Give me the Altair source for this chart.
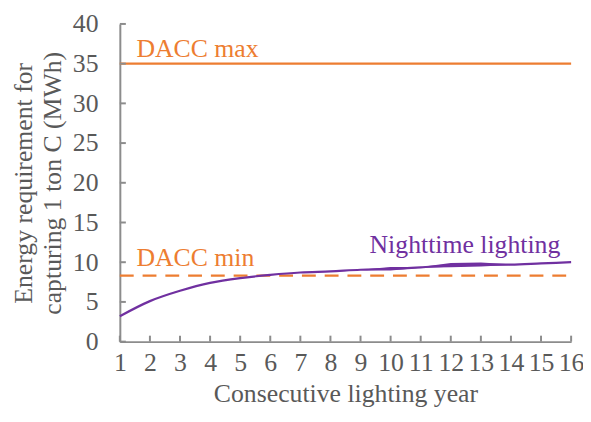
import altair as alt
import pandas as pd

# ---- data ----
years = list(range(1, 17))
mean_val = [3.2, 5.1, 6.4, 7.4, 8.0, 8.4, 8.7, 8.85, 9.05, 9.15, 9.35, 9.6, 9.7, 9.7, 9.85, 10.0]
lower_val = [3.2, 5.1, 6.4, 7.4, 8.0, 8.4, 8.7, 8.85, 9.05, 8.95, 9.3, 9.35, 9.45, 9.65, 9.85, 10.0]
upper_val = [3.2, 5.1, 6.4, 7.4, 8.0, 8.4, 8.7, 8.85, 9.05, 9.4, 9.4, 9.9, 9.95, 9.75, 9.85, 10.0]

dacc_max = 35
dacc_min = 8.3

y_ticks = [0, 5, 10, 15, 20, 25, 30, 35, 40]
x_ticks = list(range(1, 17))

labels = ["DACC max", "DACC min", "Nighttime lighting"]
label_x = [1.55, 1.55, 9.3]
label_y = [35.9, 9.5, 11.2]
label_color = ["#ED7D31", "#ED7D31", "#7030A0"]

ORANGE = "#ED7D31"
PURPLE = "#7030A0"
GRAY = "#595959"
AXIS = "#8C8C8C"
FONT = "Liberation Serif, Times New Roman, serif"

# tick length expressed in axis units (about 6 px)
XTICK_LEN = 0.2
YTICK_LEN = 0.75

series = pd.DataFrame({"year": years, "mean": mean_val, "lo": lower_val, "hi": upper_val})
refs = pd.DataFrame({"x": [1, 1], "x2": [16, 16], "y": [dacc_max, dacc_min], "kind": ["max", "min"]})
ann = pd.DataFrame({"x": label_x, "y": label_y, "text": labels, "color": label_color})
yt = pd.DataFrame({"ty": y_ticks,
                   "tx0": [x_ticks[0]] * len(y_ticks),
                   "tx1": [x_ticks[0] + XTICK_LEN] * len(y_ticks)})
xt = pd.DataFrame({"sx": x_ticks,
                   "sy0": [y_ticks[0]] * len(x_ticks),
                   "sy1": [y_ticks[0] + YTICK_LEN] * len(x_ticks)})

xscale = alt.Scale(domain=[1, 16], nice=False, zero=False)
yscale = alt.Scale(domain=[0, 40], nice=False)

XT = "Consecutive lighting year"
YT = ["Energy requirement for", "capturing 1 ton C (MWh)"]
xaxis = alt.Axis(values=x_ticks, title=XT, format="d", labelOverlap=False,
                 labelFlush=False, ticks=False, grid=False)
yaxis = alt.Axis(values=y_ticks, title=YT, format="d", labelOverlap=False,
                 labelFlush=False, ticks=False, grid=False)

def X(f):
    return alt.X(f, type="quantitative", scale=xscale, axis=xaxis)

def Y(f):
    return alt.Y(f, type="quantitative", scale=yscale, axis=yaxis)

base = alt.Chart(series)

band = base.mark_area(color=PURPLE, opacity=1).encode(x=X("year"), y=Y("lo"), y2="hi")
line = base.mark_line(color=PURPLE, strokeWidth=2.2, interpolate="monotone").encode(
    x=X("year"), y=Y("mean"))

max_rule = alt.Chart(refs[refs.kind == "max"]).mark_rule(color=ORANGE, strokeWidth=2.2).encode(
    x=X("x"), x2="x2", y=Y("y"))
min_rule = alt.Chart(refs[refs.kind == "min"]).mark_rule(
    color=ORANGE, strokeWidth=2.2, strokeDash=[14, 9]).encode(x=X("x"), x2="x2", y=Y("y"))

text = alt.Chart(ann).mark_text(align="left", baseline="alphabetic", font=FONT, fontSize=26).encode(
    x=X("x"), y=Y("y"), text="text:N", color=alt.Color("color:N", scale=None))

# inward-pointing tick marks
ytick_marks = alt.Chart(yt).mark_rule(color=AXIS, strokeWidth=2).encode(
    x=X("tx0"), x2="tx1", y=Y("ty"))
xtick_marks = alt.Chart(xt).mark_rule(color=AXIS, strokeWidth=2).encode(
    x=X("sx"), y=Y("sy0"), y2="sy1")

chart = alt.layer(
    max_rule, min_rule, band, line, text, ytick_marks, xtick_marks
).properties(
    width=456, height=321,
    background="white",
    autosize=alt.AutoSizeParams(type="none"),
    padding={"left": 113, "top": 14, "right": 12, "bottom": 70},
).configure_view(stroke=None).configure_axis(
    labelFont=FONT, titleFont=FONT, labelFontSize=26, titleFontSize=26,
    labelColor=GRAY, titleColor=GRAY, titleFontWeight="normal",
    domainColor=AXIS, domainWidth=2, labelOverlap=False, labelFlush=False,
    labelBound=False, ticks=False, grid=False, zindex=0,
).configure_axisX(
    labelPadding=8, titlePadding=6,
).configure_axisY(
    labelPadding=22, titlePadding=7, titleLineHeight=29,
)

chart.save("out.html", embed_options={"renderer": "svg", "actions": False})
